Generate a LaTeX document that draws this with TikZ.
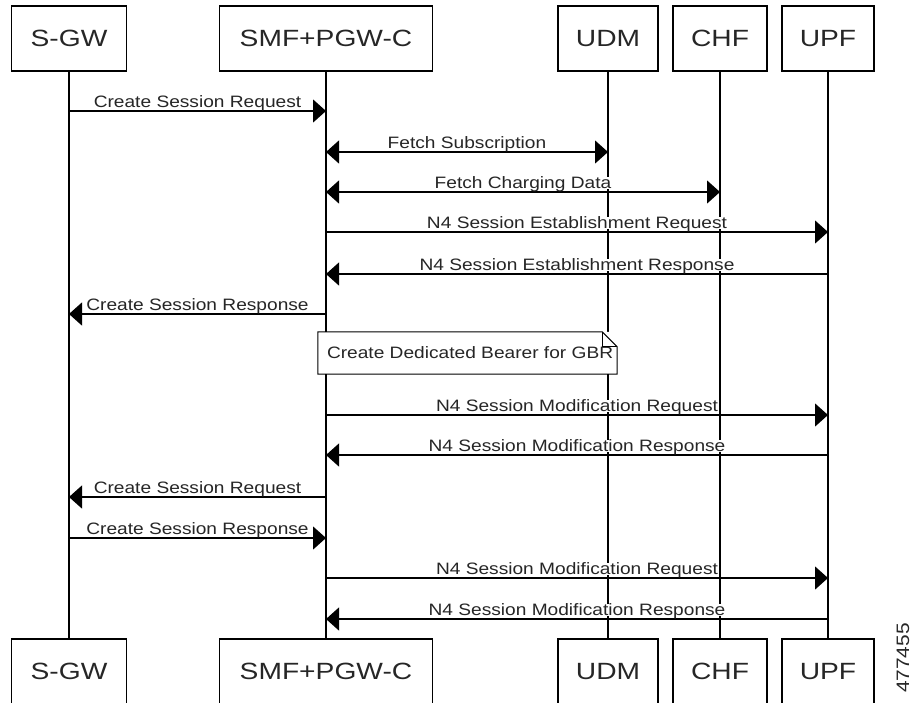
\documentclass[tikz,border=0pt]{standalone}
\usepackage{fontspec}
\setmainfont{Liberation Sans}[FakeStretch=1.16]
\newfontfamily\boxfont{Liberation Sans}[FakeStretch=1.2]
\usetikzlibrary{arrows.meta,positioning}

\begin{document}
\begin{tikzpicture}[
    x=1pt, y=-1pt,
    actor/.style={rectangle, draw, line width=1.2pt, minimum height=65pt, inner sep=0pt, font=\boxfont\fontsize{23.5}{26}\selectfont, text=black!85},
    life/.style={line width=1.2pt},
    msg/.style={line width=1.2pt, -{Triangle[length=13pt, width=23pt]}},
    both/.style={line width=1.2pt, {Triangle[length=13pt, width=23pt]}-{Triangle[length=13pt, width=23pt]}},
    lbl/.style={fill=white, inner sep=0pt, text depth=0pt, anchor=base, yshift=3.5pt, font=\fontsize{16.5}{18}\selectfont, text=black!85},
    note/.style={rectangle, fill=white, inner xsep=9pt, inner ysep=0pt, minimum width=299pt, minimum height=42pt, font=\fontsize{16.5}{18}\selectfont, text=black!85},
]
    \useasboundingbox (0,0) rectangle (913,702);

    % participants, top and bottom
    \node[actor, minimum width=115pt] (sgw) at (69,38.5) {S-GW};
    \node[actor, minimum width=213pt] (smf) at (326,38.5) {SMF+PGW-C};
    \node[actor, minimum width=100pt] (udm) at (608,38.5) {UDM};
    \node[actor, minimum width=94pt] (chf) at (720,38.5) {CHF};
    \node[actor, minimum width=92pt] (upf) at (828,38.5) {UPF};

    \node[actor, minimum width=115pt] (sgwb) at (69,671.5) {S-GW};
    \node[actor, minimum width=213pt] (smfb) at (326,671.5) {SMF+PGW-C};
    \node[actor, minimum width=100pt] (udmb) at (608,671.5) {UDM};
    \node[actor, minimum width=94pt] (chfb) at (720,671.5) {CHF};
    \node[actor, minimum width=92pt] (upfb) at (828,671.5) {UPF};

    % lifelines
    \draw[life] (sgw) -- (sgwb);
    \draw[life] (smf) -- (smfb);
    \draw[life] (udm) -- (udmb);
    \draw[life] (chf) -- (chfb);
    \draw[life] (upf) -- (upfb);

    % message rows
    \coordinate (m1) at (0,111);
    \coordinate (m2) at (0,152);
    \coordinate (m3) at (0,192);
    \coordinate (m4) at (0,232);
    \coordinate (m5) at (0,274);
    \coordinate (m6) at (0,314);
    \coordinate (m7) at (0,415);
    \coordinate (m8) at (0,455);
    \coordinate (m9) at (0,497);
    \coordinate (m10) at (0,538);
    \coordinate (m11) at (0,578);
    \coordinate (m12) at (0,619);

    \draw[msg] (sgw |- m1) -- (smf |- m1) node[lbl, midway] {Create Session Request};
    \draw[both] (smf |- m2) -- (udm |- m2) node[lbl, midway] {Fetch Subscription};
    \draw[both] (smf |- m3) -- (chf |- m3) node[lbl, midway] {Fetch Charging Data};
    \draw[msg] (smf |- m4) -- (upf |- m4) node[lbl, midway] {N4 Session Establishment Request};
    \draw[msg] (upf |- m5) -- (smf |- m5) node[lbl, midway] {N4 Session Establishment Response};
    \draw[msg] (smf |- m6) -- (sgw |- m6) node[lbl, midway] {Create Session Response};

    % note
    \node[note] (gbr) at (467.5,353) {\makebox[281pt][l]{Create Dedicated Bearer for GBR}};
    \fill[white] ([xshift=-15pt]gbr.north east) -- (gbr.north east) -- ([yshift=-15pt]gbr.north east) -- cycle;
    \draw[line width=1pt] (gbr.south west) -- (gbr.north west) -- ([xshift=-15pt]gbr.north east) -- ([yshift=-15pt]gbr.north east) -- (gbr.south east) -- cycle;
    \draw[line width=1pt] ([xshift=-15pt]gbr.north east) -- ++(0,15) -- ([yshift=-15pt]gbr.north east);

    \draw[msg] (smf |- m7) -- (upf |- m7) node[lbl, midway] {N4 Session Modification Request};
    \draw[msg] (upf |- m8) -- (smf |- m8) node[lbl, midway] {N4 Session Modification Response};
    \draw[msg] (smf |- m9) -- (sgw |- m9) node[lbl, midway] {Create Session Request};
    \draw[msg] (sgw |- m10) -- (smf |- m10) node[lbl, midway] {Create Session Response};
    \draw[msg] (smf |- m11) -- (upf |- m11) node[lbl, midway] {N4 Session Modification Request};
    \draw[msg] (upf |- m12) -- (smf |- m12) node[lbl, midway] {N4 Session Modification Response};

    \node[rotate=90, inner sep=0pt, font=\fontsize{18}{20}\selectfont, text=black!85] (figno) at (903,658) {477455};
\end{tikzpicture}
\end{document}
